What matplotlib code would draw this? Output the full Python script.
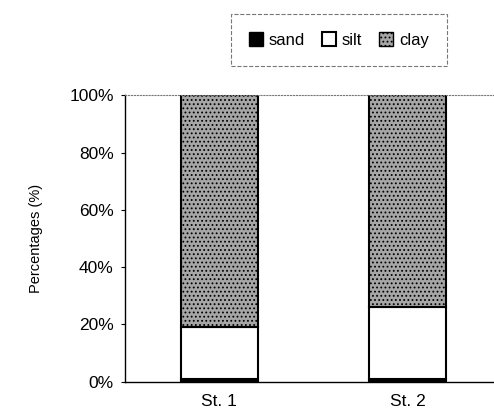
import matplotlib
matplotlib.use("Agg")
import matplotlib.pyplot as plt
import numpy as np
from matplotlib.ticker import PercentFormatter
from matplotlib.patches import Patch

stations = ["St. 1", "St. 2"]
sand = [1, 1]
silt = [18, 25]
clay = [81, 74]

plt.rcParams['font.family'] = ['Liberation Sans', 'DejaVu Sans']
plt.rcParams['hatch.linewidth'] = 0.8
fig = plt.figure(figsize=(4.94, 4.16), dpi=100)
ax = fig.add_axes([0.253, 0.0825, 0.763, 0.688])

x = np.arange(len(stations))
w = 0.41
ax.bar(x, sand, w, color='black', edgecolor='black', linewidth=1.5, label='sand')
ax.bar(x, silt, w, bottom=sand, color='white', edgecolor='black', linewidth=1.5, label='silt')
b2 = np.array(sand) + np.array(silt)
ax.bar(x, clay, w, bottom=b2, color='#a6a6a6', edgecolor='black', linewidth=1.5,
       label='clay', hatch='....')

ax.set_xlim(-0.5, 1.5)
ax.set_ylim(0, 100)
ax.set_yticks([0, 20, 40, 60, 80, 100])
ax.yaxis.set_major_formatter(PercentFormatter(decimals=0))
ax.set_xticks(x)
ax.set_xticklabels(stations, fontsize=12.5)
ax.tick_params(axis='y', labelsize=12.5, length=3, direction='out', pad=5)
ax.tick_params(axis='x', length=0, pad=9)
ax.spines['right'].set_visible(False)
ax.spines['top'].set_linestyle(':')
ax.spines['top'].set_color('#777777')
ax.spines['left'].set_linewidth(1.0)
ax.spines['bottom'].set_linewidth(1.0)
ax.set_ylabel('Percentages (%)', fontsize=10.5, labelpad=19)

handles = [Patch(facecolor='black', edgecolor='black', label='sand'),
           Patch(facecolor='white', edgecolor='black', linewidth=1.5, label='silt'),
           Patch(facecolor='#a6a6a6', edgecolor='black', hatch='....', label='clay')]
leg = fig.legend(handles=handles, loc='center', bbox_to_anchor=(0.686, 0.904), ncol=3,
                 fontsize=12, frameon=True, fancybox=False, handlelength=0.85, handleheight=0.85,
                 handletextpad=0.35, columnspacing=1.0, borderpad=1.1, borderaxespad=0)
leg.get_frame().set_edgecolor('#555555')
leg.get_frame().set_linestyle('--')
leg.get_frame().set_linewidth(0.8)

fig.savefig('out.png', dpi=100)
